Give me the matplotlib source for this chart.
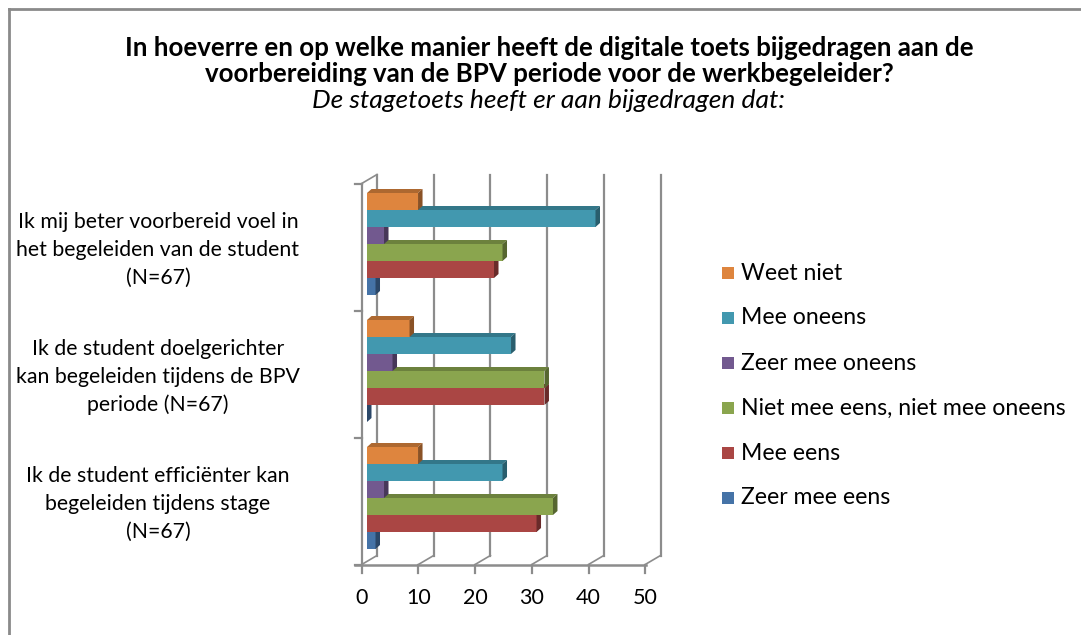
import matplotlib
matplotlib.use("Agg")
import matplotlib.pyplot as plt
from matplotlib.patches import Polygon, Rectangle
from matplotlib.lines import Line2D
import matplotlib.colors as mcolors

# Configuration
W, H = 1081, 635
FONT = "Lato"
OUTPUT_FILE = "out.png"

# Data (percentages, N=67)
categories = [
    "Ik mij beter voorbereid voel in\nhet begeleiden van de student\n(N=67)",
    "Ik de student doelgerichter\nkan begeleiden tijdens de BPV\nperiode (N=67)",
    "Ik de student efficiënter kan\nbegeleiden tijdens stage\n(N=67)",
]
series = ["Weet niet", "Mee oneens", "Zeer mee oneens",
          "Niet mee eens, niet mee oneens", "Mee eens", "Zeer mee eens"]
colors = ["#DE853E", "#4298AF", "#72598F", "#8AA54E", "#AA4644", "#4573A7"]

weet_niet = [9.0, 7.5, 9.0]
mee_oneens = [40.3, 25.4, 23.9]
zeer_mee_oneens = [3.0, 4.5, 3.0]
neutraal = [23.9, 31.3, 32.8]
mee_eens = [22.4, 31.3, 29.9]
zeer_mee_eens = [1.5, 0.0, 1.5]
values = [weet_niet, mee_oneens, zeer_mee_oneens, neutraal, mee_eens, zeer_mee_eens]

ticks = [0, 10, 20, 30, 40, 50]

title_lines = ["In hoeverre en op welke manier heeft de digitale toets bijgedragen aan de",
               "voorbereiding van de BPV periode voor de werkbegeleider?"]
subtitle = "De stagetoets heeft er aan bijgedragen dat:"

# pixel geometry of the pseudo-3D plot
PX = 5.67       # pixels per value unit
PY = 127.0      # pixels per category
X0, Y0 = 367, 244
BAR_H = 17 / PY
FRONT = (-5.3, 3)   # front plane offset (px)
BACK = (10, -6)     # back wall offset (px)
DEPTH = (4.5, 4)    # bar thickness (px)
WALL = "#8c8c8c"


def shade(c, f):
    r, g, b = mcolors.to_rgb(c)
    return (r * f, g * f, b * f)


fig = plt.figure(figsize=(W / 100, H / 100), dpi=100)
ax = fig.add_axes([330 / W, 1 - 590 / H, 370 / W, 430 / H])
ax.set_xlim((330 - X0) / PX, (700 - X0) / PX)
ax.set_ylim((590 - Y0) / PY, (160 - Y0) / PY)
ax.axis("off")

n = len(categories)
fx, fy = FRONT[0] / PX, FRONT[1] / PY
bx, by = BACK[0] / PX, BACK[1] / PY
y_lo, y_hi = -0.5, n - 0.5

# back wall gridlines and floor slants
for t in ticks:
    ax.plot([t + bx, t + bx], [y_lo + by, y_hi + by], color=WALL, lw=1.6, zorder=1)
    ax.plot([t + fx, t + bx], [y_hi + fy, y_hi + by], color=WALL, lw=1.2, zorder=1)
    ax.plot([t + fx, t + fx], [y_hi + fy, y_hi + fy + 8 / PY], color=WALL, lw=1.6, zorder=1)
    ax.text(t + fx, y_hi + fy + 33 / PY, str(t), ha="center", va="center",
            fontsize=15.5, family=FONT)

# front floor line and left wall
ax.plot([fx - 7 / PX, ticks[-1] + fx + 1 / PX], [y_hi + fy, y_hi + fy], color=WALL, lw=1.8, zorder=1)
ax.plot([fx, fx], [y_lo + fy, y_hi + fy], color=WALL, lw=1.6, zorder=1)
ax.plot([fx, bx], [y_lo + fy, y_lo + by], color=WALL, lw=1.2, zorder=1)
for k in range(n + 1):
    yk = k - 0.5 + fy
    ax.plot([fx - 7 / PX, fx], [yk, yk], color=WALL, lw=1.6, zorder=1)

# bars, drawn bottom series first so upper bars overlap lower top faces
ddx, ddy = DEPTH[0] / PX, DEPTH[1] / PY
for i in reversed(range(len(series))):
    z = 10 - i
    ys = [c + (i - 2.5) * BAR_H for c in range(n)]
    ax.barh(ys, values[i], height=BAR_H, color=colors[i], zorder=z)
    for y, v in zip(ys, values[i]):
        top, bot = y - BAR_H / 2, y + BAR_H / 2
        ax.add_patch(Polygon([(0, top), (v, top), (v + ddx, top - ddy), (ddx, top - ddy)],
                             closed=True, color=shade(colors[i], 0.78), lw=0, zorder=z))
        ax.add_patch(Polygon([(v, bot), (v, top), (v + ddx, top - ddy), (v + ddx, bot - ddy)],
                             closed=True, color=shade(colors[i], 0.62), lw=0, zorder=z))

# category labels
for c, label in enumerate(categories):
    ax.text((158 - X0) / PX, c + 6 / PY, label, ha="center", va="center",
            multialignment="center", fontsize=15.3, family=FONT, linespacing=1.5,
            clip_on=False)

# titles
for k, line in enumerate(title_lines):
    fig.text(549 / W, 1 - (48 + 26 * k) / H, line, ha="center", va="center",
             fontsize=18.6, fontweight="bold", family=FONT)
fig.text(548 / W, 1 - 101 / H, subtitle, ha="center", va="center", fontsize=19,
         style="italic", family=FONT)

# legend
for i, name in enumerate(series):
    yc = 273 + 45 * i
    fig.add_artist(Rectangle((722 / W, 1 - (yc + 6) / H), 12 / W, 12 / H,
                             transform=fig.transFigure, color=colors[i], lw=0))
    fig.text(741 / W, 1 - yc / H, name, ha="left", va="center", fontsize=16.6,
             family=FONT)

# chart frame (cropped at right and bottom)
fig.add_artist(Line2D([9 / W, 9 / W], [0, 1 - 9 / H], transform=fig.transFigure,
                      color="#8a8a8a", lw=2))
fig.add_artist(Line2D([9 / W, 1], [1 - 9 / H, 1 - 9 / H], transform=fig.transFigure,
                      color="#8a8a8a", lw=2))

fig.savefig(OUTPUT_FILE, dpi=100)
